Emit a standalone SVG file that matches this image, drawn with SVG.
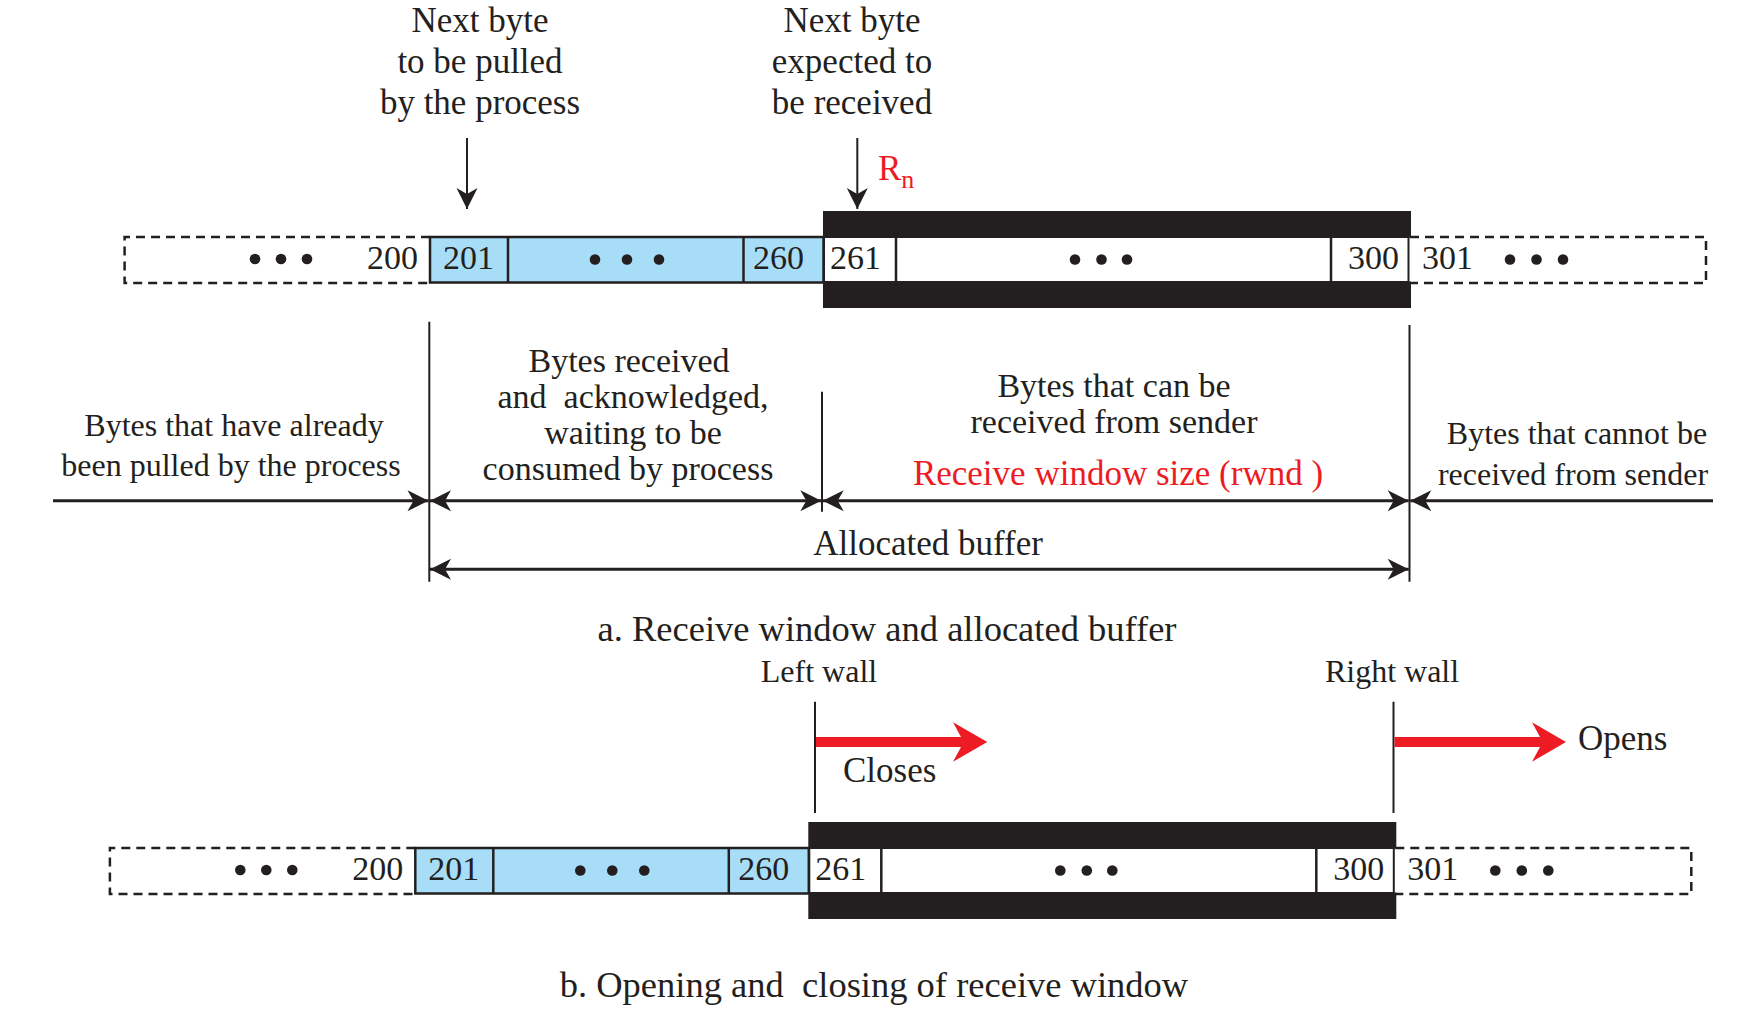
<svg xmlns="http://www.w3.org/2000/svg" xmlns:xlink="http://www.w3.org/1999/xlink" width="1760" height="1020" viewBox="0 0 1760 1020">
<style>
.t{font-family:"Liberation Serif","Times New Roman",serif;fill:#231f20}
.lbl{font-size:35px;text-anchor:middle}
.ml{font-size:34px;text-anchor:middle}
.sm{font-size:32px;text-anchor:middle}
.num{font-size:34px}
.cap{font-size:36.5px;text-anchor:middle;white-space:pre}
.red{fill:#ed1c24}
.ln{stroke:#231f20;stroke-width:2;fill:none}
.dim{stroke:#231f20;stroke-width:3;fill:none}
.dash{stroke:#231f20;stroke-width:2.5;stroke-dasharray:9 6;fill:none}
.div{stroke:#231f20;stroke-width:2.5}
.dot{fill:#231f20}
.redbar{fill:#ed1c24}
</style>
<defs>
<marker id="ah" viewBox="-22 -12 24 24" refX="0" refY="0" markerWidth="24" markerHeight="24" markerUnits="userSpaceOnUse" orient="auto-start-reverse">
<path d="M0,0 L-21,-10.5 L-15,0 L-21,10.5 Z" fill="#231f20"/>
</marker>
<g id="bar">
<path class="dash" d="M430,237 H124.6 V283 H430"/>
<path class="dash" d="M1410,237 H1706 V283 H1410"/>
<rect x="430" y="237" width="393.5" height="45.5" fill="#a8ddf7" stroke="#231f20" stroke-width="2.5"/>
<line class="div" x1="508" y1="237" x2="508" y2="282.5"/>
<line class="div" x1="743.5" y1="237" x2="743.5" y2="282.5"/>
<rect x="823" y="211" width="588" height="26.5" fill="#231f20"/>
<rect x="823" y="281.5" width="588" height="26.5" fill="#231f20"/>
<rect x="824" y="237" width="584.5" height="45" fill="#fff" stroke="#231f20" stroke-width="2"/>
<line class="div" x1="896" y1="237" x2="896" y2="282"/>
<line class="div" x1="1331" y1="237" x2="1331" y2="282"/>
<circle class="dot" cx="255" cy="259" r="5.3"/><circle class="dot" cx="281" cy="259" r="5.3"/><circle class="dot" cx="307" cy="259" r="5.3"/>
<circle class="dot" cx="595" cy="259.5" r="5.3"/><circle class="dot" cx="627" cy="259.5" r="5.3"/><circle class="dot" cx="659" cy="259.5" r="5.3"/>
<circle class="dot" cx="1075" cy="259.5" r="5.3"/><circle class="dot" cx="1101.5" cy="259.5" r="5.3"/><circle class="dot" cx="1127" cy="259.5" r="5.3"/>
<circle class="dot" cx="1510" cy="259.5" r="5.3"/><circle class="dot" cx="1536.5" cy="259.5" r="5.3"/><circle class="dot" cx="1563" cy="259.5" r="5.3"/>
<text class="t num" x="418" y="269" text-anchor="end">200</text>
<text class="t num" x="443" y="269">201</text>
<text class="t num" x="753" y="269">260</text>
<text class="t num" x="830" y="269">261</text>
<text class="t num" x="1348" y="269">300</text>
<text class="t num" x="1422" y="269">301</text>
</g>
</defs>
<rect width="1760" height="1020" fill="#fff"/>

<g id="buffer-a"><use xlink:href="#bar" href="#bar"/></g>
<g id="buffer-b"><use xlink:href="#bar" href="#bar" transform="translate(-14.7,611)"/></g>

<g id="label-next-pulled">
<text class="t lbl" x="480" y="32">Next byte</text>
<text class="t lbl" x="480" y="73">to be pulled</text>
<text class="t lbl" x="480" y="113.5">by the process</text>
</g>
<g id="label-next-expected">
<text class="t lbl" x="852" y="32">Next byte</text>
<text class="t lbl" x="852" y="73">expected to</text>
<text class="t lbl" x="852" y="113.5">be received</text>
</g>
<g id="label-rn">
<text class="t red" x="878" y="179.5" font-size="35">R<tspan font-size="26" dy="8.5">n</tspan></text>
</g>

<g id="label-pulled">
<text class="t sm" x="234" y="436">Bytes that have already</text>
<text class="t sm" x="231" y="476">been pulled by the process</text>
</g>
<g id="label-acked">
<text class="t ml" x="629" y="372">Bytes received</text>
<text class="t ml" x="633" y="408" style="white-space:pre">and  acknowledged,</text>
<text class="t ml" x="633" y="444">waiting to be</text>
<text class="t ml" x="628" y="480">consumed by process</text>
</g>
<g id="label-window">
<text class="t ml" x="1114" y="397">Bytes that can be</text>
<text class="t ml" x="1114" y="433">received from sender</text>
<text class="t lbl red" x="1118" y="485" style="white-space:pre">Receive window size (rwnd )</text>
</g>
<g id="label-cannot">
<text class="t sm" x="1577" y="444">Bytes that cannot be</text>
<text class="t sm" x="1573" y="485">received from sender</text>
</g>
<g id="label-allocated">
<text class="t lbl" x="928" y="555">Allocated buffer</text>
</g>
<g id="caption-a">
<text class="t cap" x="887" y="641">a. Receive window and allocated buffer</text>
</g>
<g id="label-walls">
<text class="t sm" x="819" y="682">Left wall</text>
<text class="t sm" x="1392" y="682">Right wall</text>
<text class="t" x="843" y="782" font-size="35">Closes</text>
<text class="t" x="1578" y="750" font-size="35">Opens</text>
</g>
<g id="caption-b">
<text class="t cap" x="874" y="997">b. Opening and  closing of receive window</text>
</g>

<g id="connectors">
<line class="ln" stroke-width="2.5" x1="467" y1="138" x2="467" y2="209" marker-end="url(#ah)"/>
<line class="ln" stroke-width="2.5" x1="857.3" y1="138" x2="857.3" y2="209" marker-end="url(#ah)"/>
<line class="ln" x1="429.3" y1="321.7" x2="429.3" y2="581.7"/>
<line class="ln" x1="822" y1="391.7" x2="822" y2="511.7"/>
<line class="ln" x1="1409.5" y1="325" x2="1409.5" y2="581.7"/>
<line class="dim" x1="53" y1="500.7" x2="428.5" y2="500.7" marker-end="url(#ah)"/>
<line class="dim" x1="430" y1="500.7" x2="821.3" y2="500.7" marker-start="url(#ah)" marker-end="url(#ah)"/>
<line class="dim" x1="822.7" y1="500.7" x2="1408.7" y2="500.7" marker-start="url(#ah)" marker-end="url(#ah)"/>
<line class="dim" x1="1410.3" y1="500.7" x2="1713" y2="500.7" marker-start="url(#ah)"/>
<line class="dim" x1="430" y1="569.3" x2="1408.7" y2="569.3" marker-start="url(#ah)" marker-end="url(#ah)"/>
<line class="ln" x1="815" y1="701.7" x2="815" y2="813"/>
<line class="ln" x1="1393.5" y1="701.7" x2="1393.5" y2="813"/>
<path class="redbar" d="M816,737 H961 L953,722.3 L987.3,742 L953,761.7 L961,747 H816 Z"/>
<path class="redbar" d="M1394.5,737 H1540 L1532,722.3 L1566,742 L1532,761.7 L1540,747 H1394.5 Z"/>
</g>
</svg>
